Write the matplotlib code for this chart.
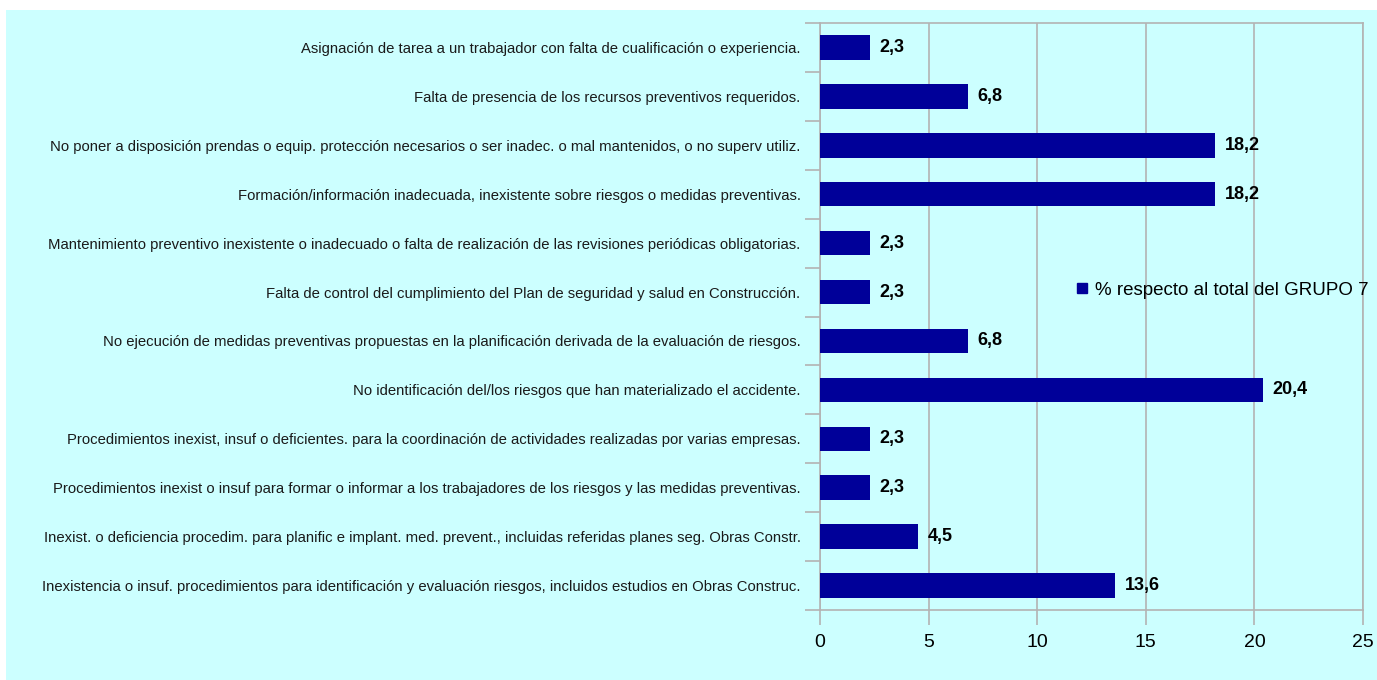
import matplotlib
matplotlib.use('Agg')
import matplotlib.pyplot as plt
import numpy as np
from matplotlib.patches import Rectangle, Patch

plt.rcParams['font.family'] = ['Liberation Sans', 'DejaVu Sans']

causes = [
    'Asignación de tarea a un trabajador con falta de cualificación o experiencia.',
    'Falta de presencia de los recursos preventivos requeridos.',
    'No poner a disposición prendas o equip. protección necesarios o ser inadec. o mal mantenidos, o no superv utiliz.',
    'Formación/información inadecuada, inexistente sobre riesgos o medidas preventivas.',
    'Mantenimiento preventivo inexistente o inadecuado o falta de realización de las revisiones periódicas obligatorias.',
    'Falta de control del cumplimiento del Plan de seguridad y salud en Construcción.',
    'No ejecución de medidas preventivas propuestas en la planificación derivada de la evaluación de riesgos.',
    'No identificación del/los riesgos que han materializado el accidente.',
    'Procedimientos inexist, insuf o deficientes. para la coordinación de actividades realizadas por varias empresas.',
    'Procedimientos inexist o insuf para formar o informar a los trabajadores de los riesgos y las medidas preventivas.',
    'Inexist. o deficiencia procedim. para planific e implant. med. prevent., incluidas referidas planes seg. Obras Constr.',
    'Inexistencia o insuf. procedimientos para identificación y evaluación riesgos, incluidos estudios en Obras Construc.',
]
pct_grupo7 = [2.3, 6.8, 18.2, 18.2, 2.3, 2.3, 6.8, 20.4, 2.3, 2.3, 4.5, 13.6]
x_ticks = [0, 5, 10, 15, 20, 25]

bg = '#ccffff'
bar_color = '#000099'
grid_color = '#b3b3b3'

fig = plt.figure(figsize=(13.77, 6.8), dpi=100, facecolor='white')
# cyan chart area (leaves a thin white strip on top and left)
fig.patches.append(Rectangle((6 / 1377, 0), 1 - 6 / 1377, 1 - 10 / 680,
                             transform=fig.transFigure, facecolor=bg,
                             edgecolor='none', zorder=-10))

ax = fig.add_axes([820 / 1377, 1 - 610 / 680, 543 / 1377, 587 / 680])
ax.set_facecolor(bg)

y = np.arange(len(causes))
ax.barh(y, pct_grupo7, height=0.5, color=bar_color, zorder=3)

for yi, v in zip(y, pct_grupo7):
    ax.annotate(f'{v:.1f}'.replace('.', ','), (v, yi), xytext=(7, 0),
                textcoords='offset points', va='center', ha='left',
                fontsize=13, fontweight='bold', color='black')

ax.set_xlim(0, 25)
ax.set_ylim(len(causes) - 0.5, -0.5)
ax.set_xticks(x_ticks)
ax.set_xticklabels([str(t) for t in x_ticks], fontsize=14)
ax.xaxis.grid(True, color=grid_color, linewidth=1.2, zorder=0)
ax.set_axisbelow(True)

# category boundaries carry the tick marks, centers carry the labels
ax.set_yticks(np.arange(-0.5, len(causes)))
ax.set_yticklabels([])
ax.set_yticks(y, minor=True)
ax.set_yticklabels(causes, minor=True, fontsize=10.75, color='#1a1a1a')
ax.tick_params(axis='y', which='major', length=11, color=grid_color, width=1.2)
ax.tick_params(axis='y', which='minor', length=0, pad=14)
ax.tick_params(axis='x', length=11, color=grid_color, width=1.2, pad=6)

for s in ax.spines.values():
    s.set_color(grid_color)
    s.set_linewidth(1.2)

ax.legend(handles=[Patch(facecolor=bar_color, edgecolor=bar_color)],
          labels=['% respecto al total del GRUPO 7'],
          loc='center left', bbox_to_anchor=(0.46, 0.545), frameon=False,
          fontsize=13.5, handlelength=0.5, handleheight=0.5,
          handletextpad=0.45, borderaxespad=0)

fig.savefig('out.png', dpi=100, facecolor='white')
